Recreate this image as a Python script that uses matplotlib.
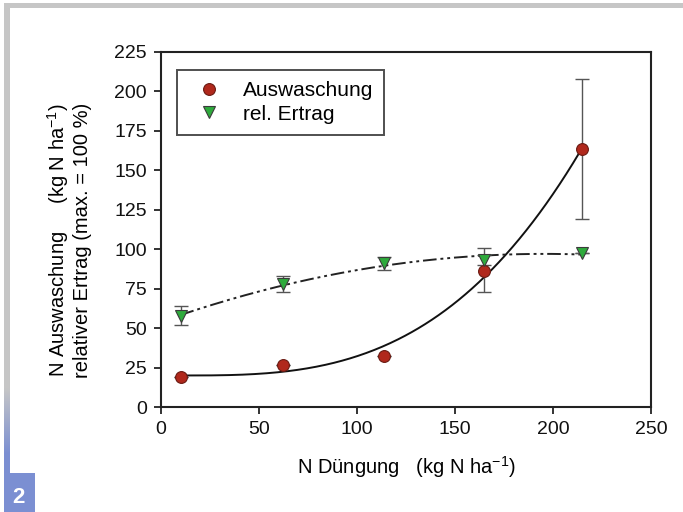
import numpy as np
import matplotlib
matplotlib.use("Agg")
import matplotlib.pyplot as plt
from matplotlib.patches import Rectangle
from matplotlib.colors import to_rgb

plt.rcParams['font.family'] = ['Liberation Sans', 'DejaVu Sans']
plt.rcParams['mathtext.fontset'] = 'custom'
plt.rcParams['mathtext.rm'] = 'Liberation Sans'
plt.rcParams['mathtext.default'] = 'regular'

# ---- data ----
n_duengung = [10, 62, 114, 165, 215]
auswaschung = [19.2, 26.6, 32.3, 86.4, 163.5]
auswaschung_err_low = [0, 0, 0, 13.7, 44.5]
auswaschung_err_high = [0, 0, 0, 14.1, 44.4]
rel_ertrag = [57.7, 77.8, 91.0, 93.2, 97.8]
rel_ertrag_err = [6.0, 5.0, 4.0, 3.0, 0.0]
x_ticks = [0, 50, 100, 150, 200, 250]
y_ticks = [0, 25, 50, 75, 100, 125, 150, 175, 200, 225]

W, H = 683, 512
fig = plt.figure(figsize=(W / 100, H / 100), dpi=100)
fig.patch.set_facecolor('white')

def px(x0, y0, w, h):
    return [x0 / W, 1 - (y0 + h) / H, w / W, h / H]

# frame decoration
gray = '#c6c6c6'
blue = '#7b8fd2'
fig.patches.append(Rectangle((4 / W, 1 - 8 / H), 1, 5 / H, transform=fig.transFigure,
                             facecolor=gray, edgecolor='none', zorder=0))
gax = fig.add_axes(px(4, 3, 6, 470))
gax.set_axis_off()
n = 470
c1, c2 = np.array(to_rgb(gray)), np.array(to_rgb(blue))
t = np.clip((np.arange(n) - 385) / 65.0, 0, 1)
grad = (c1[None, :] * (1 - t[:, None]) + c2[None, :] * t[:, None])[:, None, :]
gax.imshow(grad, aspect='auto', interpolation='bilinear')
bax = fig.add_axes(px(4, 473, 31, 39))
bax.set_axis_off()
bax.add_patch(Rectangle((0, 0), 1, 1, transform=bax.transAxes, facecolor=blue, edgecolor='none'))
bax.text(0.48, 0.36, '2', color='white', fontsize=16, fontweight='bold',
         ha='center', va='center', transform=bax.transAxes)

# main axes
ax = fig.add_axes(px(161, 52, 490, 355))
x = np.array(n_duengung, dtype=float)
y1 = np.array(auswaschung)
y2 = np.array(rel_ertrag)

# fitted curves
A = np.column_stack([np.ones_like(x), (x - x.min()) ** 3])
coef1, *_ = np.linalg.lstsq(A, y1, rcond=None)
xs = np.linspace(x.min(), x.max(), 300)
ys1 = coef1[0] + coef1[1] * (xs - x.min()) ** 3
coef2 = np.polyfit(x, y2, 2)
ys2 = np.polyval(coef2, xs)

ax.plot(xs, ys1, color='#111111', lw=1.4, zorder=2)
ax.plot(xs, ys2, color='#222222', lw=1.4, dashes=[7, 2, 1.5, 2, 1.5, 2], zorder=2)

ax.errorbar(x, y1, yerr=[auswaschung_err_low, auswaschung_err_high], fmt='none',
            ecolor='#555555', elinewidth=1.0, capsize=5, capthick=1.0, zorder=3)
ax.errorbar(x, y2, yerr=rel_ertrag_err, fmt='none',
            ecolor='#555555', elinewidth=1.0, capsize=5, capthick=1.0, zorder=3)

ax.plot(x, y1, 'o', color='#b0281c', markeredgecolor='#6a1a12', markersize=8.5,
        markeredgewidth=0.8, ls='none', zorder=4, label='Auswaschung')
ax.plot(x, y2, 'v', color='#2eaa3c', markeredgecolor='#3b3b3b', markersize=8.5,
        markeredgewidth=0.8, ls='none', zorder=4, label='rel. Ertrag')

ax.set_xlim(0, 250)
ax.set_ylim(0, 225)
ax.set_xticks(x_ticks)
ax.set_yticks(y_ticks)
ax.tick_params(direction='out', length=5, width=1.2, labelsize=14, pad=5, colors='#111111')
for s in ax.spines.values():
    s.set_linewidth(1.5)
    s.set_color('#222222')

leg = ax.legend(loc='upper left', bbox_to_anchor=(16 / 490, 1 - 18 / 355), fontsize=15,
                frameon=True, fancybox=False, edgecolor='#222222', borderpad=0.55,
                handletextpad=0.6, labelspacing=0.2, handlelength=2.0, borderaxespad=0)
leg.get_frame().set_linewidth(1.4)

fig.text(406 / W, 1 - 467 / H, r'N Düngung   (kg N ha$^{-1}$)', fontsize=14.5,
         ha='center', va='center')
fig.text(58 / W, 1 - 240 / H, r'N Auswaschung     (kg N ha$^{-1}$)', fontsize=14.5,
         ha='center', va='center', rotation=90)
fig.text(83 / W, 1 - 240 / H, 'relativer Ertrag (max. = 100 %)', fontsize=14.5,
         ha='center', va='center', rotation=90)

fig.savefig('out.png', dpi=100)
